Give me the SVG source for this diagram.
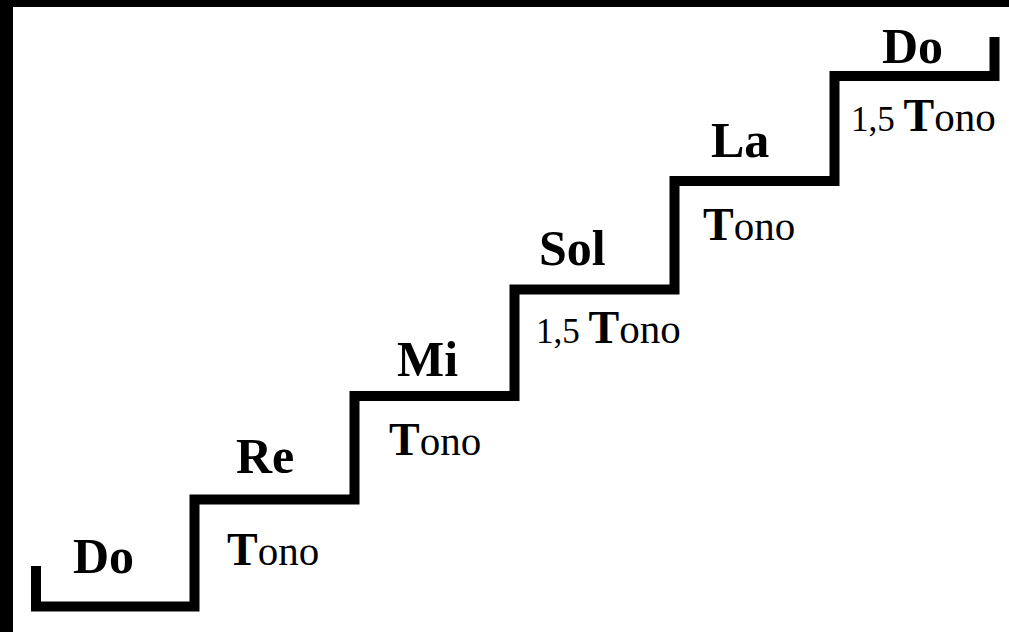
<svg xmlns="http://www.w3.org/2000/svg" width="1009" height="632" viewBox="0 0 1009 632">
  <style>
    .note { font-family: "Liberation Serif", "Times New Roman", serif; font-weight: bold; font-size: 50px; fill: #000; }
    .step { font-family: "Liberation Serif", "Times New Roman", serif; font-size: 41px; fill: #000; }
    .big { font-size: 46px; font-weight: bold; }
    .num { font-size: 35px; }
    .stair { fill: none; stroke: #000; stroke-width: 10; stroke-linejoin: miter; stroke-linecap: butt; }
  </style>
  <rect x="0" y="0" width="1009" height="632" fill="#fff"/>
  <rect x="0" y="0" width="1009" height="7" fill="#000"/>
  <rect x="0" y="0" width="13" height="632" fill="#000"/>
  <g id="connectors">
    <path class="stair" d="M36,566 V606.5 H194.5 V499.5 H354.5 V396 H514.5 V289.5 H674.5 V181 H834.5 V76 H994.5 V37"/>
  </g>
  <g id="do-low"><text class="note" x="73" y="573">Do</text></g>
  <g id="step1"><text class="step" x="227" y="565"><tspan class="big">T</tspan>ono</text></g>
  <g id="re"><text class="note" x="236" y="473">Re</text></g>
  <g id="step2"><text class="step" x="389" y="455"><tspan class="big">T</tspan>ono</text></g>
  <g id="mi"><text class="note" x="397" y="376">Mi</text></g>
  <g id="step3"><text class="step" x="536" y="343"><tspan class="num">1,5 </tspan><tspan class="big">T</tspan>ono</text></g>
  <g id="sol"><text class="note" x="539" y="265">Sol</text></g>
  <g id="step4"><text class="step" x="703" y="240"><tspan class="big">T</tspan>ono</text></g>
  <g id="la"><text class="note" x="711" y="157">La</text></g>
  <g id="step5"><text class="step" x="851" y="131"><tspan class="num">1,5 </tspan><tspan class="big">T</tspan>ono</text></g>
  <g id="do-high"><text class="note" x="882" y="63">Do</text></g>
</svg>
